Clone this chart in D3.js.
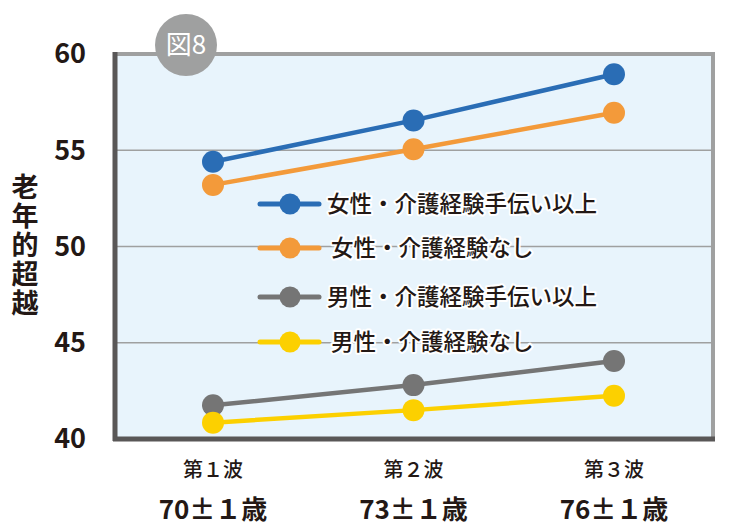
<!DOCTYPE html>
<html>
<head>
  <meta charset="utf-8">
  <script src="https://d3js.org/d3.v7.min.js"></script>
  <style>
    body { margin: 0; background: #fff; font-family: 'Noto Sans CJK JP', sans-serif; }
    .tick line { display: none; }
    .domain { display: none; }
  </style>
</head>
<body>
<script>
  // chart data
  var waves = ["第１波", "第２波", "第３波"];
  var ages = ["70±１歳", "73±１歳", "76±１歳"];
  var yTicks = [40, 45, 50, 55, 60];

  var femaleCare = [54.4, 56.55, 58.95];
  var femaleNone = [53.2, 55.05, 56.95];
  var maleCare = [41.75, 42.8, 44.05];
  var maleNone = [40.85, 41.5, 42.25];

  var seriesNames = ["女性・介護経験手伝い以上", "女性・介護経験なし", "男性・介護経験手伝い以上", "男性・介護経験なし"];
  var seriesColors = ["#2a6db5", "#f39a3a", "#757575", "#fcd000"];
  var seriesValues = [femaleCare, femaleNone, maleCare, maleNone];

  var width = 739, height = 530;
  var plotLeft = 116, plotRight = 713, plotTop = 54, plotBottom = 439;

  var svg = d3.select("body").append("svg")
      .attr("width", width)
      .attr("height", height);

  var x = d3.scalePoint().domain(waves).range([213, 614]);
  var y = d3.scaleLinear().domain([40, 60]).range([plotBottom, plotTop]);

  // plot background
  svg.append("rect")
      .attr("x", plotLeft).attr("y", plotTop)
      .attr("width", plotRight - plotLeft).attr("height", plotBottom - plotTop)
      .attr("fill", "#e8f4fc");

  // grid lines
  svg.selectAll(".grid")
    .data([45, 50, 55])
    .enter()
    .append("line")
      .attr("x1", plotLeft).attr("x2", plotRight)
      .attr("y1", function (d) { return y(d); })
      .attr("y2", function (d) { return y(d); })
      .attr("stroke", "#9fa0a0")
      .attr("stroke-width", 1.5);

  // frame: grey top and right, dark left and bottom
  svg.append("line").attr("x1", plotLeft).attr("x2", plotRight + 2)
      .attr("y1", plotTop).attr("y2", plotTop)
      .attr("stroke", "#9fa0a0").attr("stroke-width", 4);
  svg.append("line").attr("x1", plotRight).attr("x2", plotRight)
      .attr("y1", plotTop - 2).attr("y2", plotBottom)
      .attr("stroke", "#9fa0a0").attr("stroke-width", 4);
  svg.append("line").attr("x1", plotLeft - 1).attr("x2", plotLeft - 1)
      .attr("y1", plotTop - 2).attr("y2", plotBottom + 2)
      .attr("stroke", "#595757").attr("stroke-width", 5);
  svg.append("line").attr("x1", plotLeft - 3).attr("x2", plotRight + 2)
      .attr("y1", plotBottom).attr("y2", plotBottom)
      .attr("stroke", "#595757").attr("stroke-width", 5);

  // y axis labels
  var yAxis = svg.append("g")
      .attr("transform", "translate(86,0)")
      .call(d3.axisLeft(y).tickValues(yTicks).tickSize(0).tickPadding(0));
  yAxis.selectAll("text")
      .attr("font-family", "'Noto Sans CJK JP', sans-serif")
      .attr("font-size", "27px")
      .attr("font-weight", "bold")
      .attr("fill", "#231815")
      .attr("dy", "0.33em");

  // y axis title, vertical
  svg.append("text")
      .attr("x", 25).attr("y", 173)
      .attr("font-size", "27px")
      .attr("font-weight", "bold")
      .attr("fill", "#231815")
      .attr("letter-spacing", "2px")
      .style("writing-mode", "vertical-rl")
      .text("老年的超越");

  // x axis labels
  svg.selectAll(".wave")
    .data(waves)
    .enter()
    .append("text")
      .attr("x", function (d) { return x(d); })
      .attr("y", 477)
      .attr("text-anchor", "middle")
      .attr("font-size", "20px")
      .attr("font-weight", "500")
      .attr("fill", "#231815")
      .text(function (d) { return d; });

  svg.selectAll(".age")
    .data(ages)
    .enter()
    .append("text")
      .attr("x", function (d, i) { return x(waves[i]); })
      .attr("y", 519)
      .attr("text-anchor", "middle")
      .attr("font-size", "26px")
      .attr("font-weight", "bold")
      .attr("fill", "#231815")
      .text(function (d) { return d; });

  // lines and points
  var line = d3.line()
      .x(function (d, i) { return x(waves[i]); })
      .y(function (d) { return y(d); });

  seriesValues.forEach(function (vals, s) {
    svg.append("path")
        .datum(vals)
        .attr("d", line)
        .attr("fill", "none")
        .attr("stroke", seriesColors[s])
        .attr("stroke-width", 4.5);
    svg.selectAll(".pt" + s)
      .data(vals)
      .enter()
      .append("circle")
        .attr("cx", function (d, i) { return x(waves[i]); })
        .attr("cy", function (d) { return y(d); })
        .attr("r", 11)
        .attr("fill", seriesColors[s]);
  });

  // legend
  var legendY = [204, 248, 297, 342];
  var legend = svg.selectAll(".legend")
    .data(seriesNames)
    .enter()
    .append("g")
      .attr("transform", function (d, i) { return "translate(0," + legendY[i] + ")"; });
  legend.append("line")
      .attr("x1", 260).attr("x2", 319)
      .attr("stroke", function (d, i) { return seriesColors[i]; })
      .attr("stroke-width", 5)
      .attr("stroke-linecap", "round");
  legend.append("circle")
      .attr("cx", 290).attr("r", 10.5)
      .attr("fill", function (d, i) { return seriesColors[i]; });
  legend.append("text")
      .attr("x", function (d, i) { return i % 2 === 0 ? 327 : 331; })
      .attr("dy", "0.36em")
      .attr("font-size", "22.5px")
      .attr("font-weight", "500")
      .attr("fill", "#231815")
      .attr("stroke", "#ffffff")
      .attr("stroke-width", 4)
      .attr("stroke-linejoin", "round")
      .attr("paint-order", "stroke")
      .text(function (d) { return d; });

  // figure badge
  svg.append("circle")
      .attr("cx", 186).attr("cy", 45).attr("r", 31)
      .attr("fill", "#9fa0a0");
  svg.append("text")
      .attr("x", 186).attr("y", 45)
      .attr("dy", "0.36em")
      .attr("text-anchor", "middle")
      .attr("font-size", "26px")
      .attr("font-weight", "400")
      .attr("fill", "#ffffff")
      .text("図8");
</script>
</body>
</html>
